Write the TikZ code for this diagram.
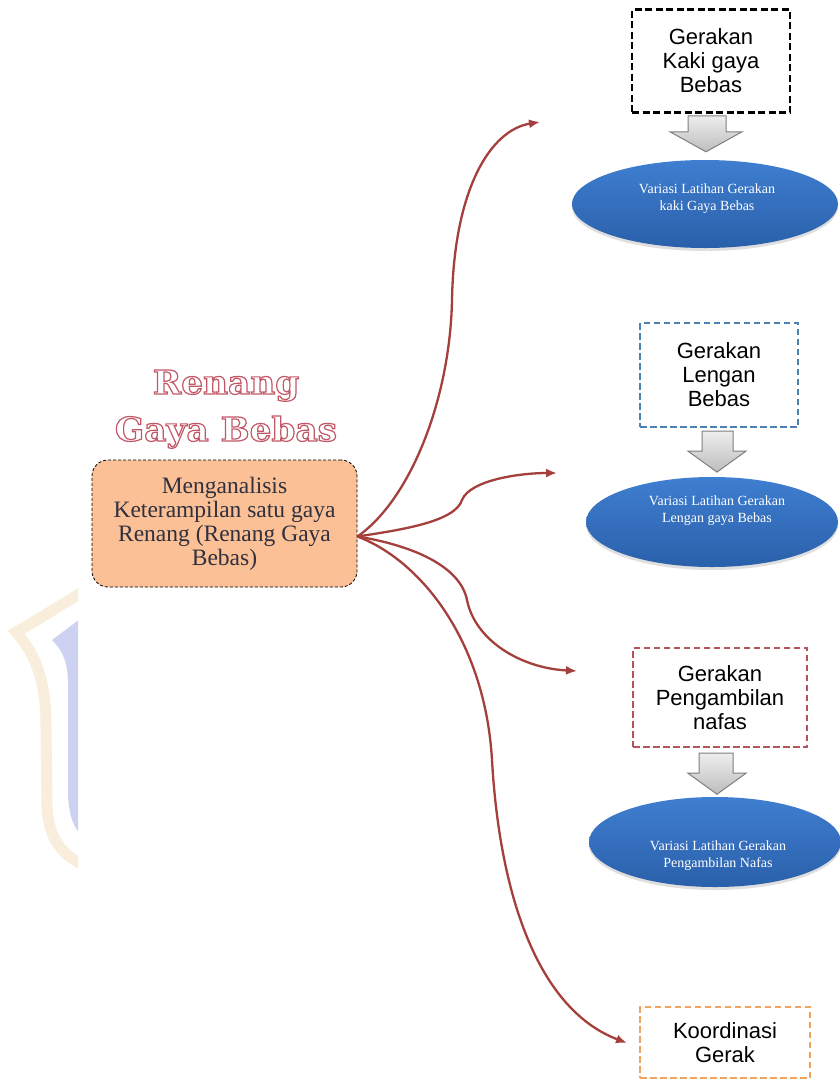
\documentclass[tikz,border=0pt]{standalone}
\usepackage{fontspec}
\setmainfont{Liberation Serif}
\newfontfamily\sansf{Liberation Sans}
\newfontfamily\titlef[FakeStretch=1.04]{DejaVu Serif}
\usetikzlibrary{arrows.meta,shapes.geometric,shadows,calc}
\definecolor{conn}{HTML}{A43F3C}
\definecolor{peach}{HTML}{FBC095}
\definecolor{obtext}{HTML}{30303E}
\definecolor{bluebd}{HTML}{4C7FB2}
\definecolor{redbd}{HTML}{B5535C}
\definecolor{orabd}{HTML}{F0A35E}
\definecolor{elltop}{HTML}{3F7ED0}
\definecolor{ellbot}{HTML}{2A60AA}
\definecolor{arrtop}{HTML}{EEEEEE}
\definecolor{arrbot}{HTML}{BDBDBD}
\definecolor{arrbd}{HTML}{7F7F7F}
\definecolor{wmbeige}{HTML}{F9EEDB}
\definecolor{wmblue}{HTML}{CDD1F2}
\newcommand\hollowtext[1]{{\color{white}%
  \special{pdf:literal direct 0.76 0.34 0.40 RG 1.2 w 2 Tr}#1%
  \special{pdf:literal direct 0 Tr}}}
\tikzset{
  conn/.style={draw=conn, line width=2.3pt, -{Latex[length=11pt,width=9pt]}},
  dbox/.style={draw, line width=2.6pt, fill=white, align=center, inner sep=0pt,
    font=\sansf\fontsize{22}{24}\selectfont, text=black},
  ell/.style={ellipse, draw=none, top color=elltop, bottom color=ellbot,
    drop shadow={opacity=0.25, shadow xshift=0pt, shadow yshift=-3pt}},
  elltext/.style={text=white, align=center, font=\fontsize{14}{17}\selectfont},
  grayarrow/.style={draw=arrbd, line width=1pt, top color=arrtop, bottom color=arrbot, line join=miter},
  titletext/.style={font=\titlef\bfseries\fontsize{33}{40}\selectfont, inner sep=0pt, anchor=base}
}
\begin{document}
\begin{tikzpicture}[x=1pt,y=-1pt]
\useasboundingbox (0,0) rectangle (840,1080);
\fill[white] (0,0) rectangle (840,1080);
% watermark
\begin{scope}
  \clip (0,0) rectangle (78,1080);
  \fill[wmblue] (84,616) -- (52,640) .. controls (62,650) and (67,660) .. (68,680)
     -- (68,795) .. controls (69,815) and (73,828) .. (84,838) -- cycle;
  \draw[wmbeige, line width=11pt, line join=miter, miter limit=20]
     (86,590) .. controls (62,604) and (38,620) .. (16,632)
     .. controls (37,655) and (46,685) .. (46,725) -- (47,805)
     .. controls (48,838) and (62,856) .. (86,866);
\end{scope}
% title
\node[titletext] (tren) at (226,394) {\hollowtext{Renang}};
\node[titletext] (tgaya) at (226,441) {\hollowtext{Gaya Bebas}};
% central box
\node[draw=black, densely dashed, line width=0.8pt, fill=peach, rounded corners=16pt,
  minimum width=265pt, minimum height=127pt, align=center, text=obtext,
  font=\fontsize{23.5}{24}\selectfont, inner sep=0pt] (ob) at (224.5,523.5)
  {Menganalisis\\Keterampilan satu gaya\\Renang (Renang Gaya\\Bebas)};
\coordinate (src) at ([yshift=-13pt]ob.east);
% right column
\node[dbox, draw=black, dash pattern=on 7pt off 3.5pt, minimum width=158pt, minimum height=103pt]
  (b1) at (711,61) {Gerakan\\Kaki gaya\\Bebas};
\node[dbox, draw=bluebd, line width=2.2pt, dash pattern=on 6.5pt off 3.5pt, minimum width=158pt, minimum height=104pt]
  (b2) at (719,375) {Gerakan\\Lengan\\Bebas};
\node[dbox, draw=redbd, line width=2.4pt, dash pattern=on 6.5pt off 3.5pt, minimum width=174pt, minimum height=99pt]
  (b3) at (720,697.5) {Gerakan\\Pengambilan\\nafas};
\node[dbox, draw=orabd, line width=2.4pt, dash pattern=on 6.5pt off 3.5pt, minimum width=170pt, minimum height=71pt]
  (b4) at (725,1042.5) {Koordinasi\\Gerak};
% ellipses
\node[ell, minimum width=266pt, minimum height=88pt] (e1) at (705,204) {};
\node[elltext] (e1t) at (707,199) {Variasi Latihan Gerakan\\kaki Gaya Bebas};
\node[ell, minimum width=252pt, minimum height=90pt] (e2) at (712,522) {};
\node[elltext] (e2t) at (717,511) {Variasi Latihan Gerakan\\Lengan gaya Bebas};
\node[ell, minimum width=252pt, minimum height=90pt] (e3) at (715,842) {};
\node[elltext] (e3t) at (718,856) {Variasi Latihan Gerakan\\Pengambilan Nafas};
% gray block arrows
\begin{scope}[shift={(b1.south)}]
  \draw[grayarrow] (-23,2) -- (15,2) -- (15,18) -- (31,18) -- (-5,38) -- (-41,18) -- (-23,18) -- cycle;
\end{scope}
\begin{scope}[shift={(b2.south)}]
  \draw[grayarrow] (-17,3) -- (14,3) -- (14,23) -- (27,23) -- (-2,44) -- (-31,23) -- (-17,23) -- cycle;
\end{scope}
\begin{scope}[shift={(b3.south)}]
  \draw[grayarrow] (-21,5) -- (13,5) -- (13,25) -- (26,25) -- (-3,46) -- (-32,25) -- (-21,25) -- cycle;
\end{scope}
% connector ends
\coordinate (t1) at (540,122);
\coordinate (t2) at (557,473);
\coordinate (t3) at (577,671);
\coordinate (t4) at (627,1043);
\draw[conn] (src) .. controls (410,500) and (450,400) .. (452,300)
  .. controls (454,190) and (490,130) .. (t1);
\draw[conn] (src) .. controls (400,530) and (455,522) .. (462,500)
  .. controls (470,480) and (520,473) .. (t2);
\draw[conn] (src) .. controls (410,545) and (460,565) .. (467,600)
  .. controls (475,640) and (520,668) .. (t3);
\draw[conn] (src) .. controls (420,560) and (485,640) .. (492,760)
  .. controls (500,900) and (540,1010) .. (t4);
\end{tikzpicture}
\end{document}
